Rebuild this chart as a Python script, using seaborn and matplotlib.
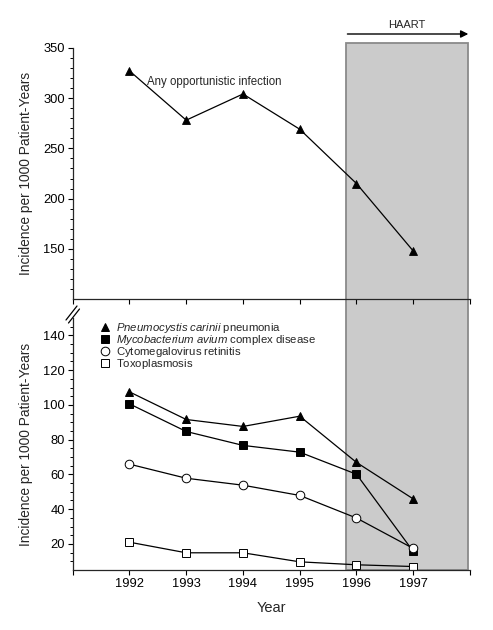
import numpy as np
import pandas as pd
import matplotlib
matplotlib.use("Agg")
import matplotlib.pyplot as plt
import matplotlib.transforms as mtransforms
from matplotlib.patches import Rectangle
from matplotlib.lines import Line2D
import seaborn as sns

# ---- data ----
years = [1992, 1993, 1994, 1995, 1996, 1997]
any_oi = [327, 278, 304, 269, 215, 148]
pcp = [107.5, 91.6, 87.6, 93.5, 66.9, 45.9]
mac = [100.6, 84.7, 76.7, 72.8, 60.1, 15.7]
cmv = [65.9, 57.8, 53.8, 47.9, 34.9, 17.4]
toxo = [21.0, 14.9, 14.9, 9.7, 8.0, 7.0]
tick_years = [1991, 1992, 1993, 1994, 1995, 1996, 1997, 1998]
tick_labels = ["", "1992", "1993", "1994", "1995", "1996", "1997", ""]
labels = [r"$\it{Pneumocystis\ carinii}\ \mathrm{pneumonia}$",
          r"$\it{Mycobacterium\ avium}\ \mathrm{complex\ disease}$",
          r"$\mathrm{Cytomegalovirus\ retinitis}$",
          r"$\mathrm{Toxoplasmosis}$"]
haart_start, haart_end = 1995.82, 1997.97

sns.set_style("ticks")
plt.rcParams["font.family"] = ["Liberation Sans", "DejaVu Sans"]
plt.rcParams["mathtext.fontset"] = "custom"
plt.rcParams["mathtext.rm"] = "Liberation Sans"
plt.rcParams["mathtext.it"] = "Liberation Sans:italic"
plt.rcParams["axes.linewidth"] = 0.9
for a in ("x", "y"):
    plt.rcParams[f"{a}tick.major.width"] = 0.8
    plt.rcParams[f"{a}tick.minor.width"] = 0.7
    plt.rcParams[f"{a}tick.major.size"] = 3.5
    plt.rcParams[f"{a}tick.minor.size"] = 2.0
    plt.rcParams[f"{a}tick.color"] = "black"

W, H = 493, 630
fig = plt.figure(figsize=(W / 100, H / 100), dpi=100)
L, R = 72.7 / W, 470 / W
ax_top = fig.add_axes([L, (H - 299.3) / H, R - L, (299.3 - 47.7) / H])
ax_bot = fig.add_axes([L, (H - 570) / H, R - L, (570 - 318) / H])

for ax in (ax_top, ax_bot):
    ax.set_facecolor("none")
    ax.set_xlim(1991, 1998)
    sns.despine(ax=ax)
    ax.set_xticks(tick_years)
    ax.tick_params(axis="both", labelsize=9.3, pad=2)

# HAART shaded region spanning both panels
blend = mtransforms.blended_transform_factory(ax_top.transData, fig.transFigure)
y0, y1 = (H - 570) / H, (H - 43) / H
rect = Rectangle((haart_start, y0), haart_end - haart_start, y1 - y0,
                 transform=blend, facecolor="#cbcbcb", edgecolor="#8a8a8a",
                 linewidth=1.3, zorder=-5)
fig.add_artist(rect)

lw = 0.9
ms = 5.8
# top panel
sns.lineplot(x=years, y=any_oi, ax=ax_top, color="black", lw=lw, marker="^",
             markersize=ms, markerfacecolor="black", markeredgecolor="black",
             markeredgewidth=0.6)
ax_top.set_ylim(100, 350)
ax_top.set_yticks([150, 200, 250, 300, 350])
ax_top.set_yticks(np.arange(110, 350, 10), minor=True)
ax_top.set_xticklabels([])
ax_top.set_ylabel("Incidence per 1000 Patient-Years", fontsize=9.9)
ax_top.text(1992.31, 316, "Any opportunistic infection", fontsize=8.3,
            ha="left", va="center")

# bottom panel
specs = [(pcp, "^", "black"), (mac, "s", "black"),
         (cmv, "o", "white"), (toxo, "s", "white")]
for (vals, mk, fc), lab in zip(specs, labels):
    sns.lineplot(x=years, y=vals, ax=ax_bot, color="black", lw=lw, marker=mk,
                 markersize=ms if mk != "o" else 6.2, markerfacecolor=fc,
                 markeredgecolor="black", markeredgewidth=0.7, label=lab)
ax_bot.set_ylim(5, 150)
ax_bot.set_yticks([20, 40, 60, 80, 100, 120, 140])
ax_bot.set_yticks(np.arange(10, 150, 5), minor=True)
ax_bot.set_xticklabels(tick_labels)
ax_bot.set_xlabel("Year", fontsize=10.5, labelpad=8)
ax_bot.set_ylabel("Incidence per 1000 Patient-Years", fontsize=9.9)

leg = ax_bot.legend(loc="upper left", bbox_to_anchor=(0.058, 1.005), frameon=False,
                    fontsize=8.2, handlelength=0.9, handletextpad=0.5,
                    labelspacing=-0.18, borderaxespad=0.0)
for h in leg.legend_handles:
    h.set_linestyle("none")

# HAART arrow and label
ax_top.annotate("", xy=(haart_end, (H - 34) / H), xytext=(haart_start + 0.02, (H - 34) / H),
                xycoords=blend, textcoords=blend, annotation_clip=False,
                arrowprops=dict(arrowstyle="-|>", color="black", lw=1.0,
                                mutation_scale=11, shrinkA=0, shrinkB=0))
ax_top.text(1996.89, (H - 25) / H, "HAART", transform=blend, fontsize=8,
            ha="center", va="center")

# axis break marks
for dx, dy in ((0, 0), (2.5, 3)):
    xs = [(66 + dx) / W, (77 + dx) / W]
    ys = [(H - (320 + dy)) / H, (H - (306 + dy)) / H]
    fig.add_artist(Line2D(xs, ys, color="black", lw=0.9))

# y labels: right edge of rotated label at x = 33 px
lx = -(72.7 - 33) / (470 - 72.7)
ax_top.yaxis.set_label_coords(lx, 0.5)
ax_bot.yaxis.set_label_coords(lx, 0.5)

fig.savefig("out.png", dpi=100)
